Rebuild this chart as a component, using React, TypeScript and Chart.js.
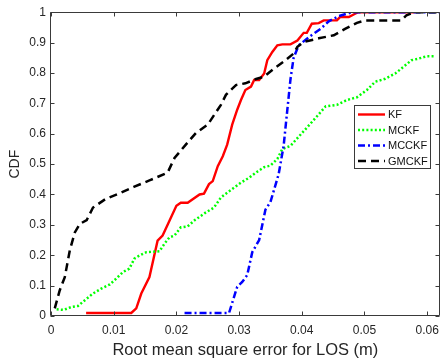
import React, { useEffect, useRef } from 'react';
import { Chart, registerables } from 'chart.js';

Chart.register(...registerables);

const seriesLabels = ['KF', 'MCKF', 'MCCKF', 'GMCKF'];
const seriesColors = ['#ff0000', '#00ff00', '#0000ff', '#000000'];

const kfX = [0.0056, 0.0128, 0.0136, 0.0144, 0.0157, 0.017, 0.0178, 0.0186, 0.02, 0.0207, 0.0218, 0.0237, 0.0244, 0.0252, 0.0258, 0.0266, 0.0274, 0.0281, 0.0289, 0.0297, 0.0303, 0.031, 0.0319, 0.0324, 0.0332, 0.034, 0.0345, 0.0353, 0.0361, 0.0369, 0.0382, 0.0393, 0.0403, 0.0408, 0.0416, 0.0427, 0.0435, 0.0456, 0.0461, 0.0475, 0.0485, 0.049, 0.058];
const kfY = [0.01, 0.01, 0.025, 0.074, 0.128, 0.248, 0.265, 0.3, 0.363, 0.373, 0.373, 0.4, 0.403, 0.434, 0.444, 0.493, 0.526, 0.564, 0.63, 0.679, 0.711, 0.744, 0.755, 0.777, 0.777, 0.798, 0.842, 0.869, 0.891, 0.894, 0.894, 0.907, 0.932, 0.932, 0.962, 0.964, 0.973, 0.973, 0.984, 0.984, 0.995, 1, 1];

const mckfX = [0.0009, 0.002, 0.0033, 0.0043, 0.0054, 0.0067, 0.008, 0.0094, 0.0104, 0.0115, 0.0125, 0.0133, 0.0141, 0.0152, 0.0173, 0.0181, 0.0189, 0.0197, 0.0207, 0.0218, 0.0229, 0.0247, 0.026, 0.0271, 0.0281, 0.0303, 0.0316, 0.0329, 0.034, 0.035, 0.0361, 0.0369, 0.0382, 0.0395, 0.0406, 0.0422, 0.0438, 0.0456, 0.0472, 0.0488, 0.0504, 0.0517, 0.0533, 0.0549, 0.0562, 0.0575, 0.0586, 0.0599, 0.0612];
const mckfY = [0.022, 0.02, 0.03, 0.033, 0.052, 0.074, 0.09, 0.104, 0.123, 0.145, 0.156, 0.189, 0.199, 0.21, 0.213, 0.238, 0.259, 0.265, 0.292, 0.295, 0.315, 0.341, 0.357, 0.39, 0.406, 0.439, 0.455, 0.475, 0.49, 0.495, 0.517, 0.55, 0.56, 0.59, 0.615, 0.652, 0.69, 0.695, 0.711, 0.72, 0.744, 0.771, 0.781, 0.798, 0.82, 0.842, 0.847, 0.855, 0.855];

const mcckfX = [0.0213, 0.0284, 0.0297, 0.0305, 0.0313, 0.0321, 0.0332, 0.0342, 0.035, 0.0363, 0.0371, 0.0377, 0.0382, 0.0387, 0.0395, 0.0414, 0.043, 0.0443, 0.0459, 0.0472, 0.048, 0.062];
const mcckfY = [0.01, 0.01, 0.096, 0.112, 0.135, 0.21, 0.25, 0.35, 0.375, 0.466, 0.559, 0.68, 0.78, 0.85, 0.891, 0.922, 0.945, 0.97, 0.987, 0.995, 1, 1];

const gmckfX = [0.0006, 0.0014, 0.0022, 0.003, 0.0038, 0.0046, 0.0057, 0.0067, 0.0087, 0.0108, 0.0132, 0.0158, 0.0186, 0.0197, 0.0215, 0.0231, 0.025, 0.0271, 0.0279, 0.0295, 0.031, 0.0327, 0.034, 0.0356, 0.0371, 0.0387, 0.0393, 0.0403, 0.0427, 0.0451, 0.0469, 0.0488, 0.0501, 0.0559, 0.0567, 0.058, 0.062];
const gmckfY = [0.025, 0.085, 0.128, 0.216, 0.275, 0.303, 0.316, 0.357, 0.385, 0.403, 0.425, 0.447, 0.472, 0.52, 0.564, 0.602, 0.63, 0.695, 0.728, 0.76, 0.766, 0.78, 0.788, 0.815, 0.837, 0.864, 0.886, 0.902, 0.914, 0.924, 0.945, 0.965, 0.973, 0.973, 0.99, 1, 1];

const xTitle = 'Root mean square error for LOS (m)';
const yTitle = 'CDF';

const FONT = '"Liberation Sans", Arial, Helvetica, sans-serif';
const TEXT = '#262626';

const dashes: number[][] = [[], [2, 2.2], [7, 3, 2, 3], [8, 5]];

const boxPlugin = {
  id: 'matlabBox',
  afterDatasetsDraw(chart: any) {
    const { ctx, chartArea } = chart;
    const { left, right, top, bottom } = chartArea;
    const L = Math.round(left) - 0.5;
    const R = Math.round(right) - 0.5;
    const T = Math.round(top) + 0.5;
    const B = Math.round(bottom) - 0.5;
    ctx.save();
    ctx.strokeStyle = '#3a3a3a';
    ctx.lineWidth = 1;
    ctx.setLineDash([]);
    ctx.beginPath();
    ctx.moveTo(L, T); ctx.lineTo(R, T); ctx.lineTo(R, B); ctx.lineTo(L, B); ctx.closePath();
    const xs = chart.scales.x;
    const ys = chart.scales.y;
    const tl = 4;
    xs.ticks.forEach((t: any) => {
      const px = Math.round(xs.getPixelForValue(t.value)) + 0.5;
      ctx.moveTo(px, B); ctx.lineTo(px, B - tl);
      ctx.moveTo(px, T); ctx.lineTo(px, T + tl);
    });
    ys.ticks.forEach((t: any) => {
      const py = Math.round(ys.getPixelForValue(t.value)) + 0.5;
      ctx.moveTo(L, py); ctx.lineTo(L + tl, py);
      ctx.moveTo(R, py); ctx.lineTo(R - tl, py);
    });
    ctx.stroke();
    ctx.restore();
  },
  afterDraw(chart: any) {
    const { ctx } = chart;
    const bx = 354.5, by = 105.5, bw = 76, bh = 63;
    ctx.save();
    ctx.fillStyle = '#ffffff';
    ctx.fillRect(bx, by, bw, bh);
    ctx.strokeStyle = '#3a3a3a';
    ctx.lineWidth = 1;
    ctx.setLineDash([]);
    ctx.strokeRect(bx, by, bw, bh);
    const rowY = [114.5, 130, 145.5, 161];
    chart.data.datasets.forEach((ds: any, i: number) => {
      const y = rowY[i];
      ctx.beginPath();
      ctx.strokeStyle = ds.borderColor;
      ctx.lineWidth = ds.borderWidth;
      ctx.setLineDash(ds.borderDash || []);
      ctx.moveTo(358, y);
      ctx.lineTo(385, y);
      ctx.stroke();
      ctx.setLineDash([]);
      ctx.fillStyle = '#111';
      ctx.font = `11px ${FONT}`;
      ctx.textAlign = 'left';
      ctx.textBaseline = 'middle';
      ctx.fillText(ds.label, 388, y + 0.5);
    });
    ctx.restore();
  },
};

export default function App() {
  const ref = useRef<HTMLCanvasElement>(null);
  useEffect(() => {
    const canvas = ref.current!;
    const zip = (xs: number[], ys: number[]) => xs.map((x, i) => ({ x, y: ys[i] }));
    const series = [zip(kfX, kfY), zip(mckfX, mckfY), zip(mcckfX, mcckfY), zip(gmckfX, gmckfY)];
    const chart = new Chart(canvas, {
      type: 'line',
      data: {
        datasets: series.map((d, i) => ({
          label: seriesLabels[i],
          data: d,
          borderColor: seriesColors[i],
          backgroundColor: seriesColors[i],
          borderWidth: i === 0 ? 2.4 : 2.5,
          borderDash: dashes[i],
          pointRadius: 0,
          tension: 0,
          fill: false,
          order: 4 - i,
        })),
      },
      options: {
        responsive: false,
        animation: false,
        devicePixelRatio: 1,
        parsing: false,
        layout: { padding: { top: 10, right: 4.4, left: 0, bottom: 0 } },
        plugins: { legend: { display: false }, tooltip: { enabled: false } },
        scales: {
          x: {
            type: 'linear',
            min: 0,
            max: 0.062,
            grid: { display: false, drawTicks: false },
            border: { display: false },
            ticks: {
              stepSize: 0.01,
              includeBounds: false,
              autoSkip: false,
              maxRotation: 0,
              padding: 7,
              color: TEXT,
              font: { family: FONT, size: 12 },
              callback: (v: any) => String(parseFloat(Number(v).toFixed(3))),
            },
            title: {
              display: true,
              text: xTitle,
              color: TEXT,
              font: { family: FONT, size: 16.5 },
              padding: { top: 0, bottom: 3 },
            },
            afterFit: (s: any) => { s.height = 47; },
          },
          y: {
            type: 'linear',
            min: 0,
            max: 1,
            grid: { display: false, drawTicks: false },
            border: { display: false },
            ticks: {
              stepSize: 0.1,
              autoSkip: false,
              padding: 5,
              color: TEXT,
              font: { family: FONT, size: 12 },
              callback: (v: any) => String(parseFloat(Number(v).toFixed(2))),
            },
            title: {
              display: true,
              text: yTitle,
              color: TEXT,
              font: { family: FONT, size: 14 },
              padding: { top: 7, bottom: 0 },
            },
            afterFit: (s: any) => { s.width = 51; },
          },
        },
      } as any,
      plugins: [boxPlugin],
    });
    return () => chart.destroy();
  }, []);
  return (
    <div style={{ position: 'absolute', left: 0, top: 0, width: 440, height: 363, overflow: 'hidden', background: '#ffffff' }}>
      <canvas ref={ref} width={446} height={363} style={{ display: 'block' }} />
    </div>
  );
}
